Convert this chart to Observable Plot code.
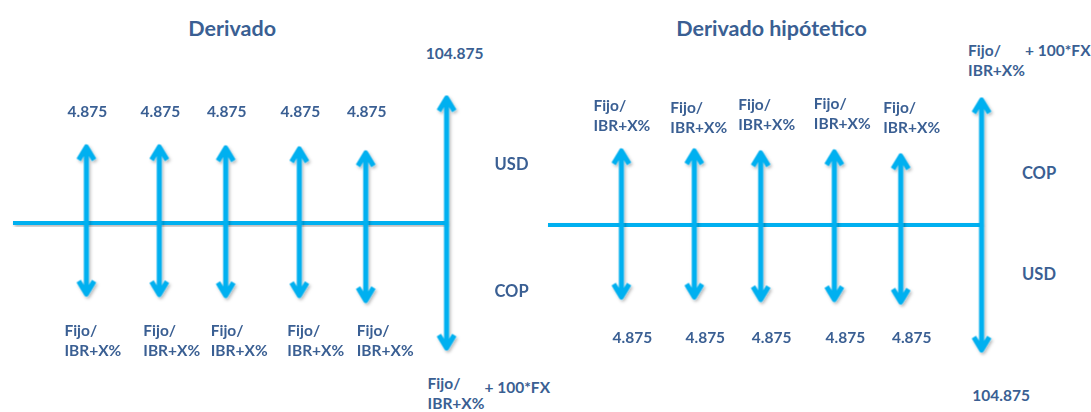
<!DOCTYPE html>
<html>
<head>
<meta charset="utf-8">
<script src="https://cdn.jsdelivr.net/npm/d3@7"></script>
<script src="https://cdn.jsdelivr.net/npm/@observablehq/plot@0.6"></script>
<style>
  html, body { margin: 0; padding: 0; background: #ffffff; }
  #chart svg { display: block; }
</style>
</head>
<body>
<div id="chart"></div>
<script>
// ---------------- data ----------------
const diagrams = ["Derivado", "Derivado hipótetico"];
const paymentTimes = [1.01, 2.02, 2.94, 3.96, 4.88, 6];
// arrow lengths (flow size, drawing units)
const derivadoUp = [7.55, 7.55, 7.45, 7.35, 6.95, 12.45];
const derivadoDown = [7.15, 7.2, 7.3, 7.3, 7.8, 12.55];
const hipoteticoUp = [7.45, 7.45, 7.25, 7.35, 6.95, 12.55];
const hipoteticoDown = [7.15, 7.15, 7.4, 7.4, 7.65, 12.45];
const couponUSD = "4.875";
const finalUSD = "104.875";
const couponCOP = "Fijo/\nIBR+X%";
const finalCOPExtra = "+ 100*FX";
const currencyAbove = ["USD", "COP"];
const currencyBelow = ["COP", "USD"];

// ---------------- layout ----------------
const BLUE = "#00B0F0";
const TEXT = "#3A5F93";
const FONT = "Lato, 'Open Sans', sans-serif";
const XPX = 1 / 72.25;  // x units per pixel
const baseLevel = [0, -0.3];
const last = paymentTimes.length - 1;

const ups = [derivadoUp, hipoteticoUp];
const downs = [derivadoDown, hipoteticoDown];

const timeline = diagrams.map((d, k) => ({diagram: d, x1: 0, x2: paymentTimes[last], y: baseLevel[k]}));
const arrows = [];
diagrams.forEach((d, k) => {
  paymentTimes.forEach((t, i) => {
    arrows.push({diagram: d, t, y1: baseLevel[k], y2: baseLevel[k] + ups[k][i]});
    arrows.push({diagram: d, t, y1: baseLevel[k], y2: baseLevel[k] - downs[k][i]});
  });
});

const middleTexts = [];
const startTexts = [];
const titles = diagrams.map((d, k) => ({diagram: d, x: k === 0 ? 3.03 : 3.09, y: 19.5, text: d}));

// Derivado (left)
const dL = diagrams[0], bL = baseLevel[0];
const leftFijoDx = [-22, -16, -15, -12, -9];
paymentTimes.slice(0, last).forEach((t, i) => {
  middleTexts.push({diagram: dL, x: t + 1 * XPX, y: bL + 11.2, text: couponUSD});
  startTexts.push({diagram: dL, x: t + leftFijoDx[i] * XPX, y: bL - 11.7, text: couponCOP});
});
middleTexts.push({diagram: dL, x: paymentTimes[last] + 8 * XPX, y: bL + 17.0, text: finalUSD});
startTexts.push({diagram: dL, x: paymentTimes[last] - 19 * XPX, y: bL - 17.0, text: couponCOP});
startTexts.push({diagram: dL, x: paymentTimes[last] + 38 * XPX, y: bL - 16.4, text: finalCOPExtra});
const currencyLeft = [
  {diagram: dL, x: paymentTimes[last] + 65 * XPX, y: bL + 5.9, text: currencyAbove[0]},
  {diagram: dL, x: paymentTimes[last] + 65 * XPX, y: bL - 6.8, text: currencyBelow[0]}
];

// Derivado hipótetico (right)
const dR = diagrams[1], bR = baseLevel[1];
const rightFijoDx = [-28, -24, -22.5, -20.5, -17.5];
const rightFijoY = [11.05, 10.85, 11.15, 11.25, 10.9];
paymentTimes.slice(0, last).forEach((t, i) => {
  startTexts.push({diagram: dR, x: t + rightFijoDx[i] * XPX, y: bR + rightFijoY[i], text: couponCOP});
  middleTexts.push({diagram: dR, x: t + 11 * XPX, y: bR - 11.1, text: couponUSD});
});
startTexts.push({diagram: dR, x: paymentTimes[last] - 13.5 * XPX, y: bR + 16.55, text: couponCOP});
startTexts.push({diagram: dR, x: paymentTimes[last] + 43.5 * XPX, y: bR + 17.6, text: finalCOPExtra});
middleTexts.push({diagram: dR, x: paymentTimes[last] + 19.5 * XPX, y: bR - 16.9, text: finalUSD});
const currencyRight = [
  {diagram: dR, x: paymentTimes[last] + 57.5 * XPX, y: bR + 5.3, text: currencyAbove[1]},
  {diagram: dR, x: paymentTimes[last] + 57.5 * XPX, y: bR - 4.8, text: currencyBelow[1]}
];
const currencies = currencyLeft.concat(currencyRight);

const textCommon = {fill: TEXT, fontFamily: FONT, fontWeight: "bold", lineAnchor: "middle", lineHeight: 1.29};

const chart = Plot.plot({
  width: 1091,
  height: 412,
  marginTop: 0, marginBottom: 0, marginLeft: 12, marginRight: 8,
  fx: {domain: diagrams, padding: 0, axis: null},
  x: {domain: [0, 7.412], axis: null},
  y: {domain: [-19, 22.2], axis: null},
  marks: [
    Plot.ruleY(timeline, {fx: "diagram", y: "y", x1: "x1", x2: "x2", stroke: BLUE, strokeWidth: 5}),
    Plot.arrow(arrows, {fx: "diagram", x1: "t", x2: "t", y1: "y1", y2: "y2", stroke: BLUE, strokeWidth: 5,
      headLength: 4.5, headAngle: 62, strokeLinejoin: "round", strokeLinecap: "butt"}),
    Plot.text(titles, {fx: "diagram", x: "x", y: "y", text: "text", textAnchor: "middle", fontSize: 21.5, ...textCommon}),
    Plot.text(middleTexts, {fx: "diagram", x: "x", y: "y", text: "text", textAnchor: "middle", fontSize: 15.5, ...textCommon}),
    Plot.text(startTexts, {fx: "diagram", x: "x", y: "y", text: "text", textAnchor: "start", fontSize: 15.5, ...textCommon}),
    Plot.text(currencies, {fx: "diagram", x: "x", y: "y", text: "text", textAnchor: "middle", fontSize: 16.5, ...textCommon})
  ]
});

// soft drop shadow under the blue lines, as in the original slide
const ns = "http://www.w3.org/2000/svg";
const defs = document.createElementNS(ns, "defs");
defs.innerHTML = '<filter id="shadow" x="-20%" y="-20%" width="140%" height="140%">' +
  '<feDropShadow dx="1.5" dy="2" stdDeviation="1.5" flood-color="#000" flood-opacity="0.28"/></filter>';
chart.insertBefore(defs, chart.firstChild);
chart.querySelectorAll('g[aria-label="rule"], g[aria-label="arrow"]').forEach(g => g.setAttribute("filter", "url(#shadow)"));

document.getElementById("chart").appendChild(chart);
</script>
</body>
</html>
